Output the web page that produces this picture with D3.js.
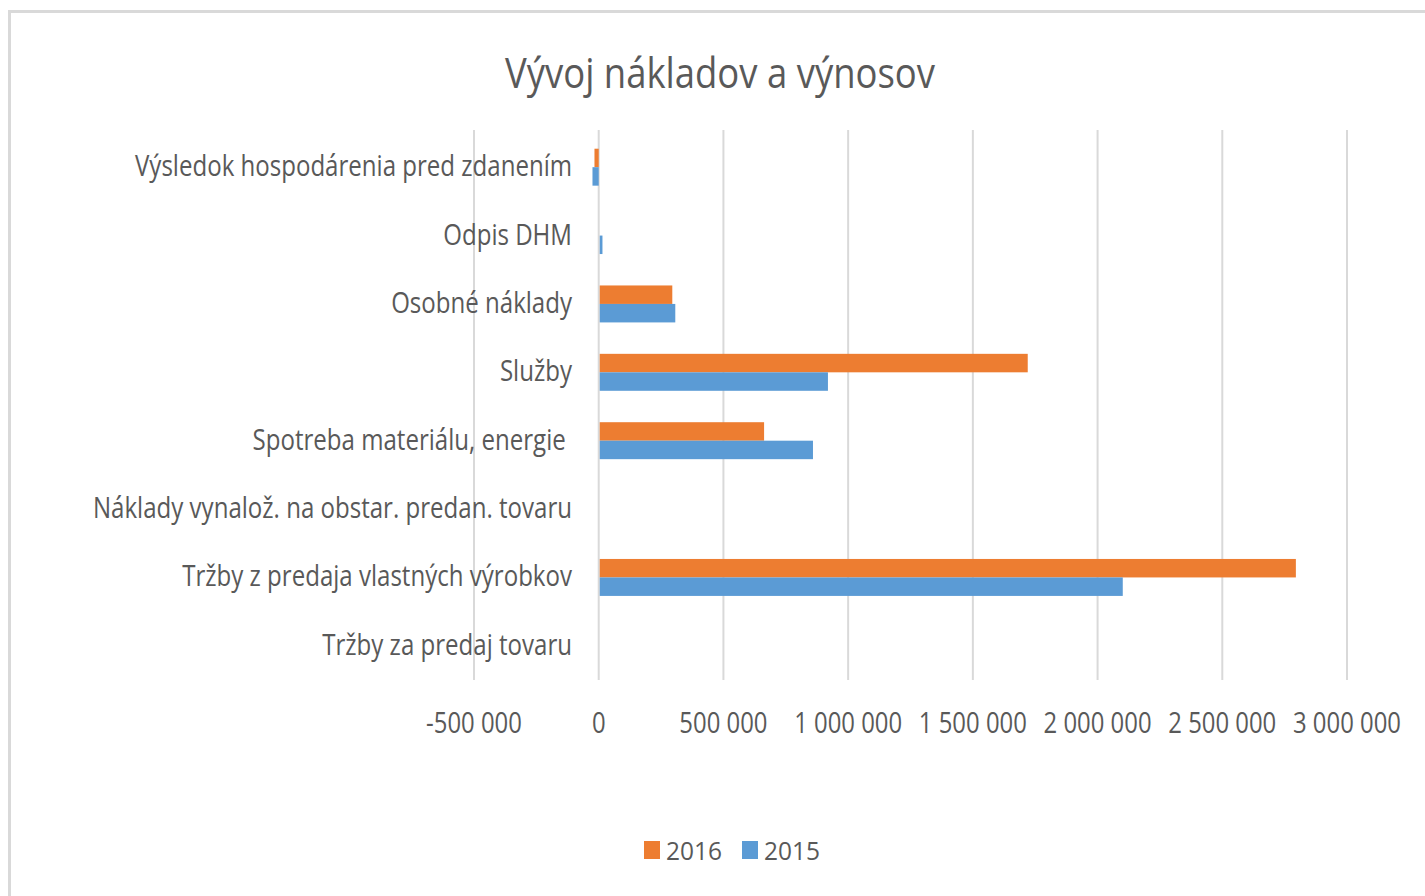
<!DOCTYPE html>
<html>
<head>
<meta charset="utf-8">
<script src="https://cdn.jsdelivr.net/npm/d3@7"></script>
<style>
  body { margin: 0; background: #fff; }
  text { font-family: "Open Sans", "Noto Sans", sans-serif; fill: #595959; }
</style>
</head>
<body>
<div id="chart"></div>
<script>
// categories, top to bottom as in the chart
var categories = [
  "Výsledok hospodárenia pred zdanením",
  "Odpis DHM",
  "Osobné náklady",
  "Služby",
  "Spotreba materiálu, energie ",
  "Náklady vynalož. na obstar. predan. tovaru",
  "Tržby z predaja vlastných výrobkov",
  "Tržby za predaj tovaru"
]
var series = ["2016", "2015"]
var values2016 = [-17000, 0, 295000, 1720000, 663000, 0, 2795000, 0]
var values2015 = [-25000, 15000, 307000, 919000, 859000, 0, 2101000, 0]
var ticks = [-500000, 0, 500000, 1000000, 1500000, 2000000, 2500000, 3000000]
var colors = ["#ED7D31", "#5B9BD5"]

var width = 1425
var height = 896

var svg = d3.select("#chart")
  .append("svg")
  .attr("width", width)
  .attr("height", height)

// outer chart border (right / bottom edges fall outside the picture)
svg.append("rect")
  .attr("x", 9.5)
  .attr("y", 11.5)
  .attr("width", 1440)
  .attr("height", 920)
  .attr("fill", "#fff")
  .attr("stroke", "#d9d9d9")
  .attr("stroke-width", 3)

var x = d3.scaleLinear()
  .domain([-500000, 3000000])
  .range([474, 1347])

var y = d3.scaleBand()
  .domain(categories)
  .range([133, 680])

var ySub = d3.scaleBand()
  .domain(series)
  .range([0, y.bandwidth()])
  .paddingOuter(0.85)

// squeeze a group of texts so that one reference string has the wanted width
function fit(sel, refWidth, refIndex) {
  var nodes = sel.nodes()
  var factor = refWidth / nodes[refIndex].getComputedTextLength()
  nodes.forEach(n => {
    var w = n.getComputedTextLength()
    d3.select(n).attr("textLength", w * factor).attr("lengthAdjust", "spacingAndGlyphs")
  })
}

// gridlines
svg.append("g")
  .selectAll("line")
  .data(ticks)
  .enter()
  .append("line")
  .attr("x1", d => x(d))
  .attr("x2", d => x(d))
  .attr("y1", 130)
  .attr("y2", 680)
  .attr("stroke", "#d9d9d9")
  .attr("stroke-width", 2)

// bars
var rows = categories.map((c, i) => ({ cat: c, vals: [values2016[i], values2015[i]] }))

var groups = svg.append("g")
  .selectAll("g")
  .data(rows)
  .enter()
  .append("g")
  .attr("transform", d => "translate(0," + y(d.cat) + ")")

groups.selectAll("rect")
  .data(d => d.vals.map((v, j) => ({ key: series[j], v: v, j: j })))
  .enter()
  .append("rect")
  .attr("x", d => x(Math.min(0, d.v)) + (d.v > 0 ? 1 : 0))
  .attr("width", d => d.v == 0 ? 0 : Math.max(0, Math.abs(x(d.v) - x(0)) - (d.v > 0 ? 1 : 0)))
  .attr("y", d => ySub(d.key))
  .attr("height", ySub.bandwidth())
  .attr("fill", d => colors[d.j])

// category labels
var catLabels = svg.append("g")
  .selectAll("text")
  .data(categories)
  .enter()
  .append("text")
  .attr("x", 572)
  .attr("y", d => y(d) + y.bandwidth() / 2 + 9)
  .attr("text-anchor", "end")
  .style("white-space", "pre")
  .style("font-size", "30px")
  .text(d => d)
fit(catLabels, 437, 0)

// tick labels
var fmt = d => d3.format(",")(d).replace(/,/g, "\u00a0").replace("−", "-")
var tickLabels = svg.append("g")
  .selectAll("text")
  .data(ticks)
  .enter()
  .append("text")
  .attr("x", d => x(d))
  .attr("y", 733)
  .attr("text-anchor", "middle")
  .style("font-size", "29px")
  .text(d => fmt(d))
fit(tickLabels, 108, 3)

// title
var title = svg.append("text")
  .attr("x", 720)
  .attr("y", 88)
  .attr("text-anchor", "middle")
  .style("font-size", "42px")
  .text("Vývoj nákladov a výnosov")
fit(title, 430, 0)

// legend
var legendX = [644, 742]
var legend = svg.append("g")
  .selectAll("g")
  .data(series)
  .enter()
  .append("g")
  .attr("transform", (d, i) => "translate(" + legendX[i] + ",0)")

legend.append("rect")
  .attr("x", 0)
  .attr("y", 841)
  .attr("width", 16)
  .attr("height", 18)
  .attr("fill", (d, i) => colors[i])

var legendText = legend.append("text")
  .attr("x", 22)
  .attr("y", 860)
  .style("font-size", "25px")
  .text(d => d)
fit(legendText, 56, 0)
</script>
</body>
</html>
